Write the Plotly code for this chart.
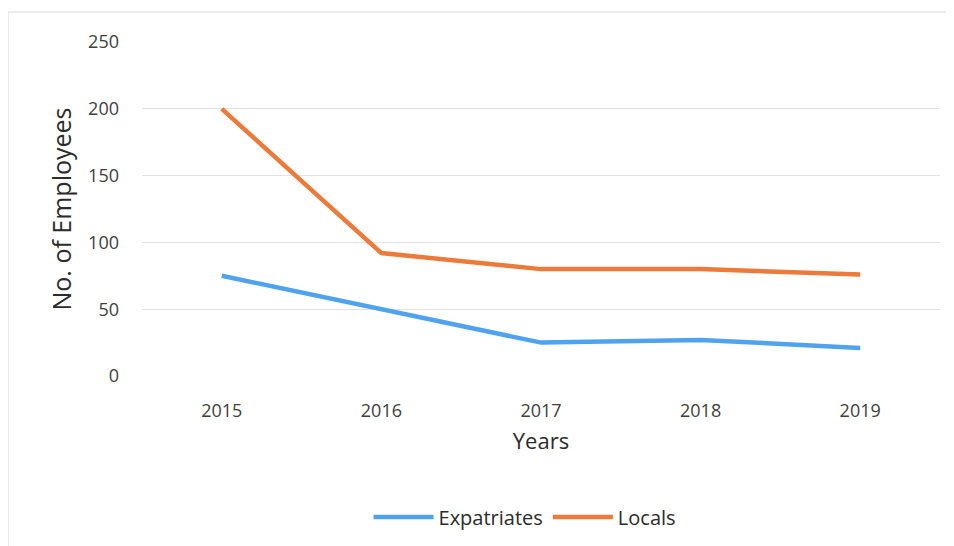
import plotly.graph_objects as go

years = ["2015", "2016", "2017", "2018", "2019"]
expatriates = [75, 50, 25, 27, 21]
locals_ = [200, 92, 80, 80, 76]
y_ticks = [0, 50, 100, 150, 200, 250]

# page body has an 8px default margin, so the figure is sized to fit the window
W, H = 946, 538
L, R, T, B = 134, 14, 34, 170

fig = go.Figure()
fig.add_trace(go.Scatter(x=years, y=expatriates, mode="lines", name="Expatriates",
                         line=dict(color="#4FA3EE", width=4.5)))
fig.add_trace(go.Scatter(x=years, y=locals_, mode="lines", name="Locals",
                         line=dict(color="#EC7A3A", width=4.5)))

pw = W - L - R
ph = H - T - B
fig.update_layout(
    width=W, height=H,
    margin=dict(l=L, r=R, t=T, b=B, autoexpand=False),
    paper_bgcolor="white", plot_bgcolor="white",
    font=dict(family="Open Sans, sans-serif", color="#404040", size=18),
    showlegend=True,
    legend=dict(orientation="h", x=0.48, xanchor="center", y=(T + ph - 509) / ph,
                yanchor="middle", font=dict(size=20, color="#2b2b2b"),
                itemwidth=60, traceorder="normal"),
    xaxis=dict(type="category", range=[-0.5, 4.5], showgrid=False, showline=False,
               zeroline=False, ticks="", ticklabelstandoff=22, automargin=False,
               tickfont=dict(size=18, color="#404040"),
               title=dict(text="Years", font=dict(size=22, color="#2b2b2b"), standoff=12)),
    yaxis=dict(range=[0, 250], tickvals=y_ticks, showgrid=True, gridcolor="#e3e3e3",
               gridwidth=1, zeroline=False, showline=False, ticks="", ticklabelstandoff=22,
               automargin=False,
               tickfont=dict(size=18, color="#404040"),
               title=dict(text="No. of Employees", font=dict(size=25, color="#2b2b2b"),
                          standoff=9)),
    shapes=[dict(type="rect", xref="paper", yref="paper",
                 x0=(0 - L) / pw, x1=(W - 3 - L) / pw,
                 y0=(T + ph - (H + 5)) / ph, y1=(T + ph - 4) / ph,
                 line=dict(color="#d8d8d8", width=1), layer="below")],
)

fig.write_html("out.html")
